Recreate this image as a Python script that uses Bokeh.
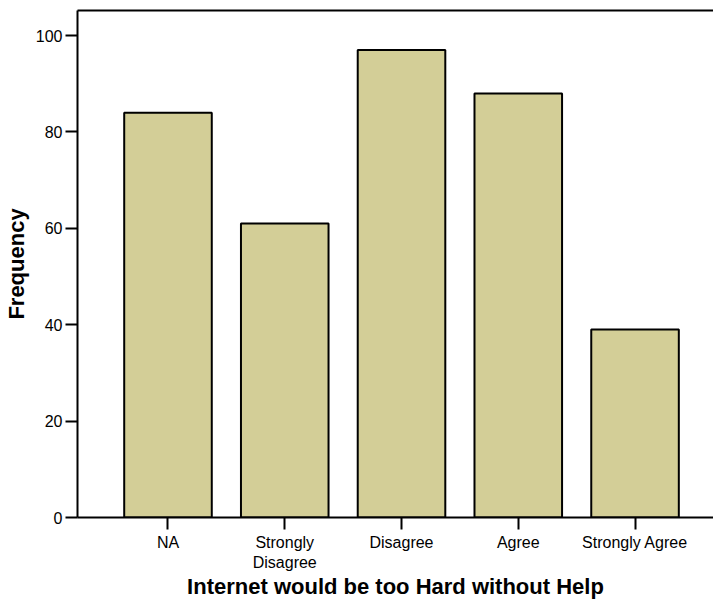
from bokeh.plotting import figure
from bokeh.models import Range1d, FixedTicker, LinearAxis, ColumnDataSource
from bokeh.embed import file_html
from bokeh.resources import INLINE

categories = ["NA", "Strongly Disagree", "Disagree", "Agree", "Strongly Agree"]
tick_labels = ["NA", "Strongly\nDisagree", "Disagree", "Agree", "Strongly Agree"]
counts = [84, 61, 97, 88, 39]
y_ticks = [0, 20, 40, 60, 80, 100]

positions = list(range(len(categories)))
src = ColumnDataSource(dict(x=positions, top=counts, cat=categories))

p = figure(width=713, height=601, output_backend="svg", toolbar_location=None,
           x_range=Range1d(-0.775, 4.672), y_range=Range1d(0, 105.2),
           min_border_left=77, min_border_right=0, min_border_top=10, min_border_bottom=83)

p.vbar(x="x", top="top", width=0.75, source=src, fill_color="#d3ce97",
       line_color="black", line_width=2)

p.grid.visible = False
p.outline_line_color = None
p.background_fill_color = "white"
p.border_fill_color = "white"

FONT = "Liberation Sans"

xa = p.xaxis[0]
xa.ticker = FixedTicker(ticks=positions)
xa.major_label_overrides = {i: t for i, t in zip(positions, tick_labels)}
xa.axis_label = "Internet would be too Hard without Help"

ya = p.yaxis[0]
ya.ticker = FixedTicker(ticks=y_ticks)
ya.axis_label = "Frequency"

for ax in (xa, ya):
    ax.axis_line_width = 2
    ax.axis_line_color = "black"
    ax.major_tick_line_width = 2
    ax.major_tick_line_color = "black"
    ax.major_tick_out = 12
    ax.major_tick_in = 0
    ax.minor_tick_line_color = None
    ax.major_label_text_font = FONT
    ax.major_label_text_font_size = "16px"
    ax.major_label_text_color = "black"
    ax.axis_label_text_font = FONT
    ax.axis_label_text_font_size = "22px"
    ax.axis_label_text_font_style = "bold"
    ax.axis_label_text_color = "black"

xa.major_label_standoff = 4
xa.axis_label_standoff = 0
ya.major_label_standoff = 3
ya.axis_label_standoff = 4

top_axis = LinearAxis(ticker=FixedTicker(ticks=[]), axis_line_width=2, axis_line_color="black",
                      major_tick_out=0, major_tick_in=0, minor_tick_line_color=None,
                      major_label_standoff=0, major_label_text_font_size="0px")
p.add_layout(top_axis, "above")

open("out.html", "w").write(file_html(p, INLINE))
